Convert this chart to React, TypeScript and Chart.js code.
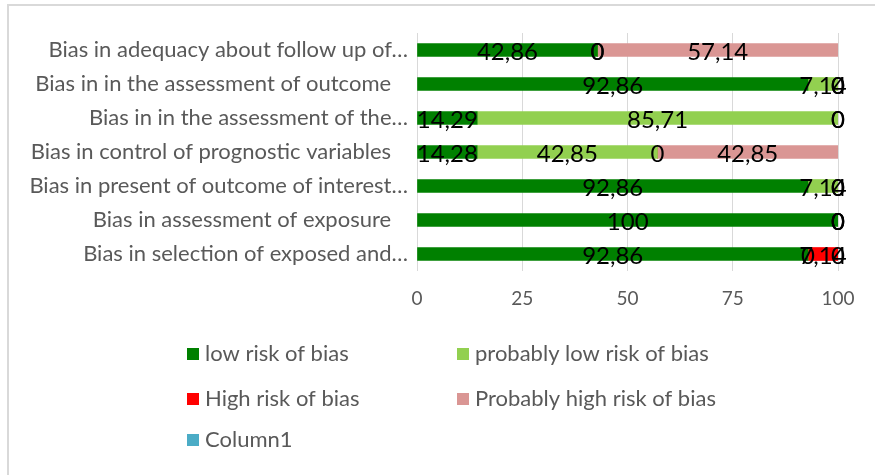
import React, { useEffect, useRef } from "react";
import { Chart, registerables } from "chart.js";

Chart.register(...registerables);

const categories = [
  "Bias in adequacy about follow up of…",
  "Bias in in the assessment of outcome   ",
  "Bias in in the assessment of the…",
  "Bias in control of prognostic variables   ",
  "Bias in present of outcome of interest…",
  "Bias in assessment of exposure   ",
  "Bias in selection of exposed and…",
];

const seriesNames = [
  "low risk of bias",
  "probably low risk of bias",
  "High risk of bias",
  "Probably high risk of bias",
  "Column1",
];

const lowRisk = [42.86, 92.86, 14.29, 14.28, 92.86, 100, 92.86];
const probablyLow = [0, 7.14, 85.71, 42.85, 7.14, 0, 0];
const highRisk = [0, 0, 0, 0, 0, 0, 7.14];
const probablyHigh = [57.14, 0, 0, 42.85, 0, 0, 0];
const column1: (number | null)[] = [null, null, null, null, null, null, null];

const xTicks = [0, 25, 50, 75, 100];

const colors = ["#008000", "#92D050", "#FF0000", "#DA9694", "#4BACC6"];

const FONT = "Lato, 'Liberation Sans', sans-serif";

const labelPlugin = {
  id: "segLabels",
  afterDatasetsDraw(chart: any) {
    const ctx = chart.ctx;
    ctx.save();
    ctx.font = `24px ${FONT}`;
    ctx.fillStyle = "#000000";
    ctx.textAlign = "center";
    ctx.textBaseline = "middle";
    chart.data.datasets.forEach((ds: any, di: number) => {
      const meta = chart.getDatasetMeta(di);
      meta.data.forEach((el: any, i: number) => {
        const v = ds.data[i];
        if (v === null || v === undefined) return;
        const p = el.getProps(["x", "y", "base"], true);
        const cx = (p.x + p.base) / 2;
        ctx.fillText(String(v).replace(".", ","), cx, p.y + 2);
      });
    });
    ctx.restore();
  },
};

const legendPlugin = {
  id: "gridLegend",
  afterDraw(chart: any) {
    const ctx = chart.ctx;
    const colX = [187, 457];
    const rowY = [354, 399, 440];
    ctx.save();
    ctx.font = `22px ${FONT}`;
    ctx.textBaseline = "middle";
    ctx.textAlign = "left";
    chart.data.datasets.forEach((ds: any, i: number) => {
      const x = colX[i % 2];
      const y = rowY[Math.floor(i / 2)];
      ctx.fillStyle = ds.backgroundColor;
      ctx.fillRect(x, y - 6, 12, 12);
      ctx.fillStyle = "#595959";
      ctx.fillText(ds.label, x + 18, y);
    });
    ctx.restore();
  },
};

export default function App() {
  const ref = useRef<HTMLCanvasElement>(null);
  useEffect(() => {
    if (!ref.current) return;
    const series = [lowRisk, probablyLow, highRisk, probablyHigh, column1];
    const chart = new Chart(ref.current, {
      type: "bar",
      data: {
        labels: categories,
        datasets: series.map((d, i) => ({
          label: seriesNames[i],
          data: d,
          backgroundColor: colors[i],
          borderWidth: 0,
          barThickness: 13,
        })),
      },
      options: {
        indexAxis: "y",
        animation: false,
        responsive: false,
        maintainAspectRatio: false,
        layout: { padding: { top: 33, right: 37, left: 0, bottom: 0 } },
        plugins: {
          legend: { display: false },
          tooltip: { enabled: false },
        },
        scales: {
          x: {
            stacked: true,
            min: 0,
            max: 100,
            afterBuildTicks: (s: any) => {
              s.ticks = xTicks.map((v) => ({ value: v }));
            },
            afterFit: (s: any) => {
              s.height = 204;
            },
            grid: { color: "#D9D9D9", drawTicks: false, lineWidth: 1 },
            border: { display: false },
            ticks: {
              color: "#595959",
              font: { family: FONT, size: 19 },
              padding: 16,
            },
          },
          y: {
            stacked: true,
            afterFit: (s: any) => {
              s.width = 417;
            },
            grid: { display: false },
            border: { display: false },
            ticks: {
              color: "#595959",
              font: { family: FONT, size: 22 },
              padding: 1,
              autoSkip: false,
            },
          },
        },
      },
      plugins: [labelPlugin, legendPlugin],
    });
    return () => chart.destroy();
  }, []);
  return (
    <div
      style={{
        position: "fixed",
        left: 0,
        top: 0,
        width: 875,
        height: 475,
        background: "#fff",
      }}
    >
      <div
        style={{
          position: "absolute",
          left: 7,
          top: 4,
          width: 868,
          height: 471,
          borderTop: "2px solid #D9D9D9",
          borderLeft: "2px solid #D9D9D9",
          boxSizing: "border-box",
        }}
      />
      <canvas
        ref={ref}
        width={875}
        height={475}
        style={{ position: "absolute", left: 0, top: 0 }}
      />
    </div>
  );
}
